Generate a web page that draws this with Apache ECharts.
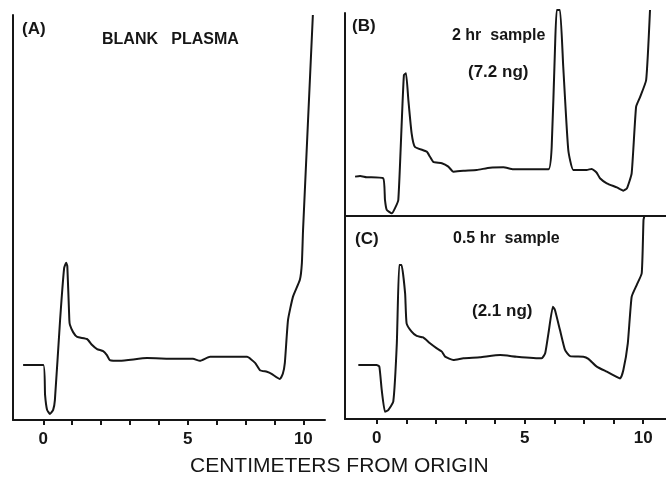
<!DOCTYPE html>
<html>
<head>
<meta charset="utf-8">
<script src="https://cdn.jsdelivr.net/npm/echarts@6/dist/echarts.min.js"></script>
<style>html,body{margin:0;padding:0;background:#fff}#c{width:666px;height:477px}</style>
</head>
<body>
<div id="c"></div>
<script>
// x positions are in axis tick units (ticks equally spaced; the reference labels tick 9 as "10")
const tickPositions = [0, 1, 2, 3, 4, 5, 6, 7, 8, 9];
const labelPositions = [0, 5, 9];
const labelTexts = ['0', '5', '10'];

// (A) Blank plasma
const aX = [-0.70, 0.0, 0.06, 0.13, 0.23, 0.34, 0.40, 0.58, 0.72, 0.79, 0.83, 0.90, 0.92, 1.03, 1.17, 1.51, 1.69, 1.86, 2.07, 2.20, 2.30, 2.65, 3.59, 4.56, 5.18, 5.42, 5.77, 7.05, 7.33, 7.50, 7.74, 7.90, 8.19, 8.29, 8.36, 8.47, 8.64, 8.88, 8.95, 8.99, 9.33];
const aY = [13.6, 13.6, 6.2, 2.5, 1.5, 2.5, 4.9, 24.7, 37.5, 38.8, 38.0, 24.7, 23.5, 21.7, 20.5, 20.0, 18.5, 17.5, 17.0, 16.0, 14.8, 14.6, 15.3, 15.1, 15.1, 14.6, 15.6, 15.6, 14.1, 12.3, 11.9, 11.4, 10.1, 11.4, 14.1, 24.7, 30.4, 34.6, 38.8, 46.9, 100];

// (B) 2 hr sample
const bX = [-0.73, -0.56, -0.34, 0.22, 0.28, 0.34, 0.51, 0.62, 0.73, 0.84, 0.92, 0.99, 1.07, 1.18, 1.29, 1.69, 1.80, 1.91, 2.20, 2.42, 2.59, 2.93, 3.38, 3.83, 4.28, 4.61, 5.80, 5.91, 6.02, 6.08, 6.19, 6.30, 6.47, 6.64, 7.09, 7.26, 7.43, 7.54, 7.77, 8.11, 8.33, 8.45, 8.61, 8.76, 8.90, 9.10, 9.23];
const bY = [19.4, 19.7, 19.1, 18.6, 7.9, 3.0, 1.3, 3.9, 7.9, 44.0, 69.5, 70.3, 57.1, 40.7, 34.1, 31.7, 29.2, 26.7, 26.0, 24.3, 21.8, 22.3, 22.7, 23.8, 24.0, 23.0, 23.0, 34.1, 81.8, 101.5, 101.5, 73.5, 32.5, 22.7, 22.7, 23.2, 21.3, 18.6, 16.1, 14.1, 12.5, 13.6, 21.0, 53.8, 58.8, 67.0, 101.5];

// (C) 0.5 hr sample
const cX = [-0.62, 0.0, 0.09, 0.17, 0.28, 0.39, 0.56, 0.68, 0.76, 0.84, 0.96, 1.01, 1.18, 1.35, 1.57, 1.80, 2.03, 2.20, 2.31, 2.59, 2.93, 3.49, 4.17, 4.73, 5.57, 5.69, 5.80, 5.95, 6.02, 6.19, 6.36, 6.53, 6.98, 7.15, 7.43, 7.77, 8.22, 8.33, 8.48, 8.61, 8.78, 8.95, 9.01, 9.04];
const cY = [26.6, 26.6, 25.8, 14.3, 3.6, 4.4, 8.5, 37.3, 75.9, 75.9, 61.9, 47.1, 43.0, 40.9, 40.2, 37.3, 34.8, 33.2, 30.7, 29.1, 29.9, 30.4, 31.5, 30.7, 29.9, 32.4, 42.2, 55.3, 53.7, 43.8, 34.0, 31.0, 30.7, 29.6, 25.8, 23.3, 20.0, 24.1, 37.3, 60.2, 66.0, 71.8, 98.0, 100];

const pairs = (xs, ys) => xs.map((x, i) => [x, ys[i]]);
const INK = '#161616';
const FONT = '"Liberation Sans", Arial, sans-serif';

function xAxis(gi, min, max, withTicks) {
  return {
    type: 'value', gridIndex: gi, min: min, max: max,
    splitLine: {show: false},
    axisLine: {show: true, onZero: false, lineStyle: {color: INK, width: 2}},
    axisTick: withTicks ? {show: true, customValues: tickPositions, length: 5, lineStyle: {color: INK, width: 2}} : {show: false},
    axisLabel: withTicks ? {
      show: true, customValues: labelPositions, margin: 11,
      color: INK, fontFamily: FONT, fontWeight: 'bold', fontSize: 17,
      formatter: v => { const k = labelPositions.indexOf(Math.round(v)); return k >= 0 ? labelTexts[k] : ''; }
    } : {show: false}
  };
}
function yAxis(gi) {
  return {
    type: 'value', gridIndex: gi, min: 0, max: 100,
    splitLine: {show: false},
    axisLine: {show: true, onZero: false, lineStyle: {color: INK, width: 2}},
    axisTick: {show: false}, axisLabel: {show: false}
  };
}
function line(gi, data) {
  return {
    type: 'line', xAxisIndex: gi, yAxisIndex: gi, data: data,
    showSymbol: false, symbol: 'none', smooth: 0.15, clip: false,
    lineStyle: {color: INK, width: 2}, animation: false
  };
}
function txt(left, y, text, size, weight) {
  return {type: 'text', left: left, top: y - size / 2 - 1,
    style: {text: text, fill: INK, font: (weight || 'bold') + ' ' + size + 'px ' + FONT}};
}

const chart = echarts.init(document.getElementById('c'), null, {renderer: 'canvas'});
chart.setOption({
  animation: false,
  backgroundColor: '#ffffff',
  grid: [
    {left: 13, top: 15, width: 312, height: 405},
    {left: 345, top: 13, width: 321, height: 203},
    {left: 345, top: 216, width: 321, height: 203}
  ],
  xAxis: [xAxis(0, -1.05, 9.75, true), xAxis(1, -1.07, 9.77, false), xAxis(2, -1.07, 9.77, true)],
  yAxis: [yAxis(0), yAxis(1), yAxis(2)],
  series: [line(0, pairs(aX, aY)), line(1, pairs(bX, bY)), line(2, pairs(cX, cY))],
  graphic: [
    txt(22, 30, '(A)', 17),
    txt(102, 41, 'BLANK   PLASMA', 16),
    txt(352, 27, '(B)', 17),
    txt(452, 37, '2 hr  sample', 16),
    txt(468, 73, '(7.2 ng)', 17),
    txt(355, 240, '(C)', 17),
    txt(453, 240, '0.5 hr  sample', 16),
    txt(472, 312, '(2.1 ng)', 17),
    {type: 'text', left: 190, top: 456, style: {text: 'CENTIMETERS FROM ORIGIN', fill: INK, font: 'normal 21px ' + FONT}}
  ]
});
</script>
</body>
</html>
